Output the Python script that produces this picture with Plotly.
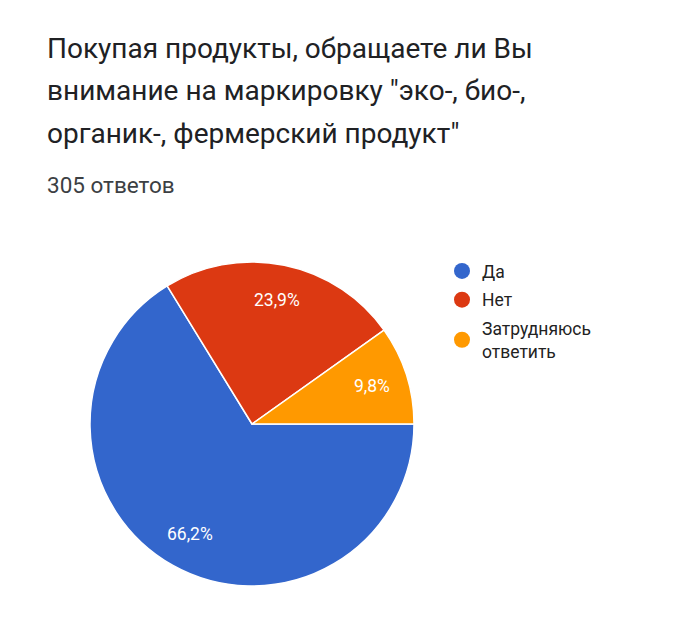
import math
import plotly.graph_objects as go

# ответы на вопрос
labels = ['Да', 'Нет', 'Затрудняюсь<br>ответить']
counts = [202, 73, 30]
colors = ['#3366CC', '#DC3912', '#FF9900']

title_lines = [
    'Покупая продукты, обращаете ли Вы',
    'внимание на маркировку "эко-, био-,',
    'органик-, фермерский продукт"',
]
subtitle = '305 ответов'

W, H = 700, 627
cx, cy, r = 244, 416, 162  # центр и радиус круга в пикселях

fig = go.Figure()
fig.add_trace(go.Pie(
    labels=labels,
    values=counts,
    marker=dict(colors=colors, line=dict(color='white', width=1.5)),
    sort=False,
    direction='clockwise',
    rotation=90,
    textinfo='none',
    showlegend=False,
    hoverinfo='label+value+percent',
    domain=dict(x=[(cx - r) / W, (cx + r) / W],
                y=[1 - (cy + r) / H, 1 - (cy - r) / H]),
))

# легенда с круглыми значками
for lab, col in zip(labels, colors):
    fig.add_trace(go.Scatter(
        x=[None], y=[None], mode='markers', name=lab, legendgroup=lab,
        marker=dict(color=col, size=17, symbol='circle'),
    ))

annotations = []
for i, line in enumerate(title_lines):
    annotations.append(dict(
        text=line, x=37 / W, y=1 - (40 + 43 * i) / H,
        xref='paper', yref='paper', xanchor='left', yanchor='middle',
        showarrow=False, font=dict(size=28, color='#202124', family='Roboto'),
    ))
annotations.append(dict(
    text=subtitle, x=37 / W, y=1 - 177 / H,
    xref='paper', yref='paper', xanchor='left', yanchor='middle',
    showarrow=False, font=dict(size=22.5, color='#3c4043', family='Roboto'),
))

# подписи процентов по биссектрисам секторов
total = sum(counts)
start = 90.0
for v in counts:
    span = 360.0 * v / total
    mid = math.radians(start + span / 2)
    d = 0.78 * r
    px = cx + d * math.sin(mid)
    py = cy - d * math.cos(mid)
    annotations.append(dict(
        text=f'{100 * v / total:.1f}%'.replace('.', ','),
        x=px / W, y=1 - py / H, xref='paper', yref='paper',
        xanchor='center', yanchor='middle', showarrow=False,
        font=dict(size=17.5, color='white', family='Roboto'),
    ))
    start += span

fig.update_layout(
    width=W, height=H,
    margin=dict(l=0, r=0, t=0, b=0),
    paper_bgcolor='white',
    plot_bgcolor='white',
    xaxis=dict(visible=False),
    yaxis=dict(visible=False),
    annotations=annotations,
    legend=dict(x=434 / W, y=1 - 245 / H, xanchor='left', yanchor='top',
                font=dict(size=17.5, color='#222222', family='Roboto'),
                tracegroupgap=3, itemwidth=30),
)

fig.write_html('out.html')
